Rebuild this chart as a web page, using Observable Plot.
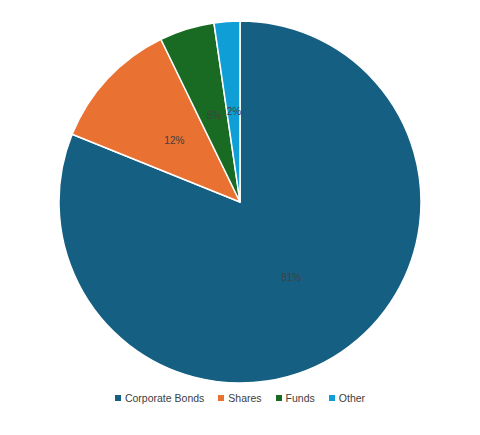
<!DOCTYPE html>
<html>
<head>
<meta charset="utf-8">
<script src="https://cdn.jsdelivr.net/npm/d3@7"></script>
<script src="https://cdn.jsdelivr.net/npm/@observablehq/plot@0.6"></script>
<style>
  body { margin: 0; background: #fff; font-family: "Liberation Sans", Arial, sans-serif; }
  #chart { width: 480px; }
  #legend { display: flex; justify-content: center; align-items: center; height: 26px; font-size: 10.5px; color: #404040; }
  #legend .item { display: flex; align-items: center; margin: 0 7px; }
  #legend .sw { width: 6px; height: 6px; margin-right: 4px; }
</style>
</head>
<body>
<div id="chart"></div>
<script>
const categories = ["Corporate Bonds", "Shares", "Funds", "Other"];
const values = [81.1, 11.7, 4.9, 2.3];
const labels = ["81%", "12%", "5%", "2%"];
const colors = ["#156082", "#E97132", "#196B24", "#0F9ED5"];

const data = categories.map((c, i) => ({category: c, value: values[i], label: labels[i]}));
const arcs = d3.pie().sort(null).value(d => d.value)(data);
const labelData = arcs.map(a => {
  const mid = (a.startAngle + a.endAngle) / 2;
  return {category: a.data.category, label: a.data.label, x: 0.5 * Math.sin(mid), y: 0.5 * Math.cos(mid)};
});

const slices = (index, scales) => {
  const cx = scales.x(0), cy = scales.y(0);
  const r = scales.x(1) - cx;
  const arc = d3.arc().innerRadius(0).outerRadius(r);
  const g = d3.create("svg:g").attr("transform", `translate(${cx},${cy})`);
  g.selectAll("path").data(arcs).join("path")
    .attr("d", arc)
    .attr("fill", d => scales.color(d.data.category))
    .attr("stroke", "#fff")
    .attr("stroke-width", 1.5)
    .attr("stroke-linejoin", "round");
  return g.node();
};

const plot = Plot.plot({
  width: 480,
  height: 385,
  marginLeft: 59,
  marginRight: 59,
  marginTop: 21,
  marginBottom: 2,
  x: {domain: [-1, 1], axis: null},
  y: {domain: [-1, 1], axis: null},
  color: {domain: categories, range: colors},
  style: {fontFamily: "Liberation Sans, Arial, sans-serif", background: "#fff"},
  marks: [
    Plot.dot(data, {x: () => 0, y: () => 0, fill: "category", r: 0}),
    slices,
    Plot.text(labelData, {x: "x", y: "y", text: "label", fill: "#404040", fontSize: 10})
  ]
});
document.getElementById("chart").appendChild(plot);

const legend = document.createElement("div");
legend.id = "legend";
categories.forEach((c, i) => {
  const item = document.createElement("div");
  item.className = "item";
  const sw = document.createElement("div");
  sw.className = "sw";
  sw.style.background = colors[i];
  const t = document.createElement("span");
  t.textContent = c;
  item.appendChild(sw);
  item.appendChild(t);
  legend.appendChild(item);
});
document.getElementById("chart").appendChild(legend);
</script>
</body>
</html>
